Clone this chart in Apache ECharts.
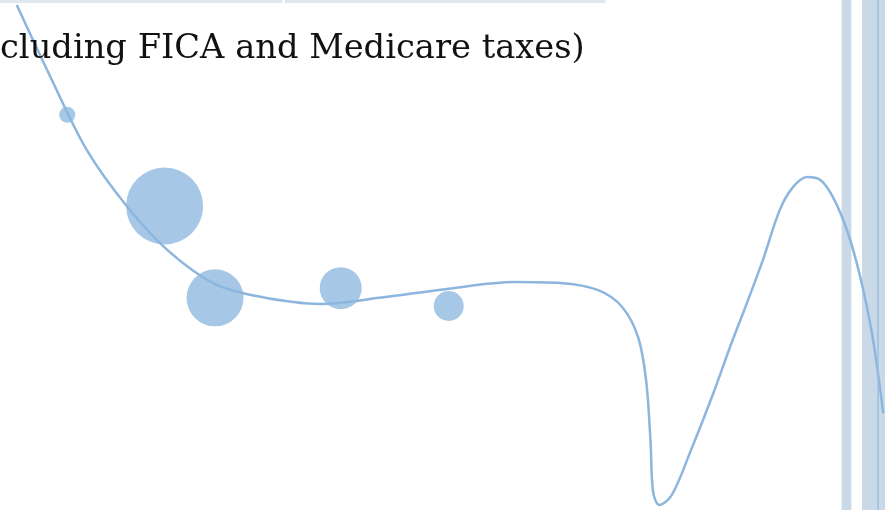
<!DOCTYPE html>
<html>
<head>
<meta charset="utf-8">
<script src="https://cdn.jsdelivr.net/npm/echarts@6/dist/echarts.min.js"></script>
<style>
  html, body { margin: 0; padding: 0; background: #fff; }
  #chart { width: 885px; height: 510px; }
</style>
</head>
<body>
<div id="chart"></div>
<script>
/* ---------------- DATA ---------------- */

// trend curve (x, y)
const CURVE_X = [1.9, 5.7, 9.8, 14.4, 18.9, 24.1, 29.4, 36.2, 42.9, 50.3, 58.2, 63.3, 67.6, 70.3, 72.1, 73.0, 73.5, 73.8, 74.5, 75.9, 78.0, 80.6, 82.5, 84.4, 86.2, 88.1, 89.6, 91.2, 92.7, 94.1, 95.7, 97.2, 98.6, 99.8];
const CURVE_Y = [99.0, 84.9, 70.6, 59.4, 51.0, 44.5, 41.8, 40.4, 41.6, 43.3, 44.7, 44.5, 43.1, 39.8, 33.9, 25.5, 13.7, 3.5, 1.0, 2.9, 11.4, 22.9, 32.0, 40.6, 49.0, 58.8, 63.3, 65.3, 64.7, 61.4, 54.9, 45.7, 33.9, 19.0];

// bubbles: x, y, diameter
const BUBBLE_X = [7.6, 18.6, 24.3, 38.5, 50.7];
const BUBBLE_Y = [77.5, 59.6, 41.6, 43.5, 40.0];
const BUBBLE_SIZE = [16, 77, 57, 42, 30];

// shaded bands
const TOP_BANDS = [[0, 31.9], [32.2, 68.4]];
const TOP_BAND_Y = [99.4, 100];
const SIDE_BANDS = [[95.1, 96.2], [97.4, 100]];
const SIDE_LINE_X = 99.2;

const TITLE = "cluding FICA and Medicare taxes)";

/* ---------------- CHART ---------------- */

const chart = echarts.init(document.getElementById("chart"));

const curve = CURVE_X.map((x, i) => [x, CURVE_Y[i]]);
const bubbles = BUBBLE_X.map((x, i) => [x, BUBBLE_Y[i], BUBBLE_SIZE[i]]);

const bandAreas = [
    ...SIDE_BANDS.map(([a, b]) => [
        { xAxis: a, itemStyle: { color: "#cad9e7" } },
        { xAxis: b },
    ]),
    ...TOP_BANDS.map(([a, b]) => [
        { xAxis: a, yAxis: TOP_BAND_Y[0], itemStyle: { color: "#dfe7f0" } },
        { xAxis: b, yAxis: TOP_BAND_Y[1] },
    ]),
];

chart.setOption({
    animation: false,
    backgroundColor: "#fff",
    title: {
        text: TITLE,
        left: -5,
        top: 27,
        textStyle: {
            fontFamily: "DejaVu Serif",
            fontWeight: "normal",
            fontSize: 33.7,
            color: "#111",
        },
    },
    grid: { left: 0, right: 0, top: 0, bottom: 0 },
    xAxis: {
        type: "value",
        min: 0,
        max: 100,
        show: false,
    },
    yAxis: {
        type: "value",
        min: 0,
        max: 100,
        show: false,
    },
    series: [
        {
            type: "line",
            data: curve,
            smooth: 0.33,
            showSymbol: false,
            lineStyle: { color: "#8cb6dd", width: 2.5 },
            markArea: {
                silent: true,
                data: bandAreas,
            },
            markLine: {
                silent: true,
                symbol: "none",
                label: { show: false },
                lineStyle: { color: "#9dbedd", width: 1.5, type: "solid" },
                data: [{ xAxis: SIDE_LINE_X }],
            },
            z: 3,
        },
        {
            type: "scatter",
            data: bubbles,
            symbolSize: (v) => v[2],
            itemStyle: { color: "#a6c8e6", opacity: 1 },
            z: 2,
        },
    ],
});
</script>
</body>
</html>
